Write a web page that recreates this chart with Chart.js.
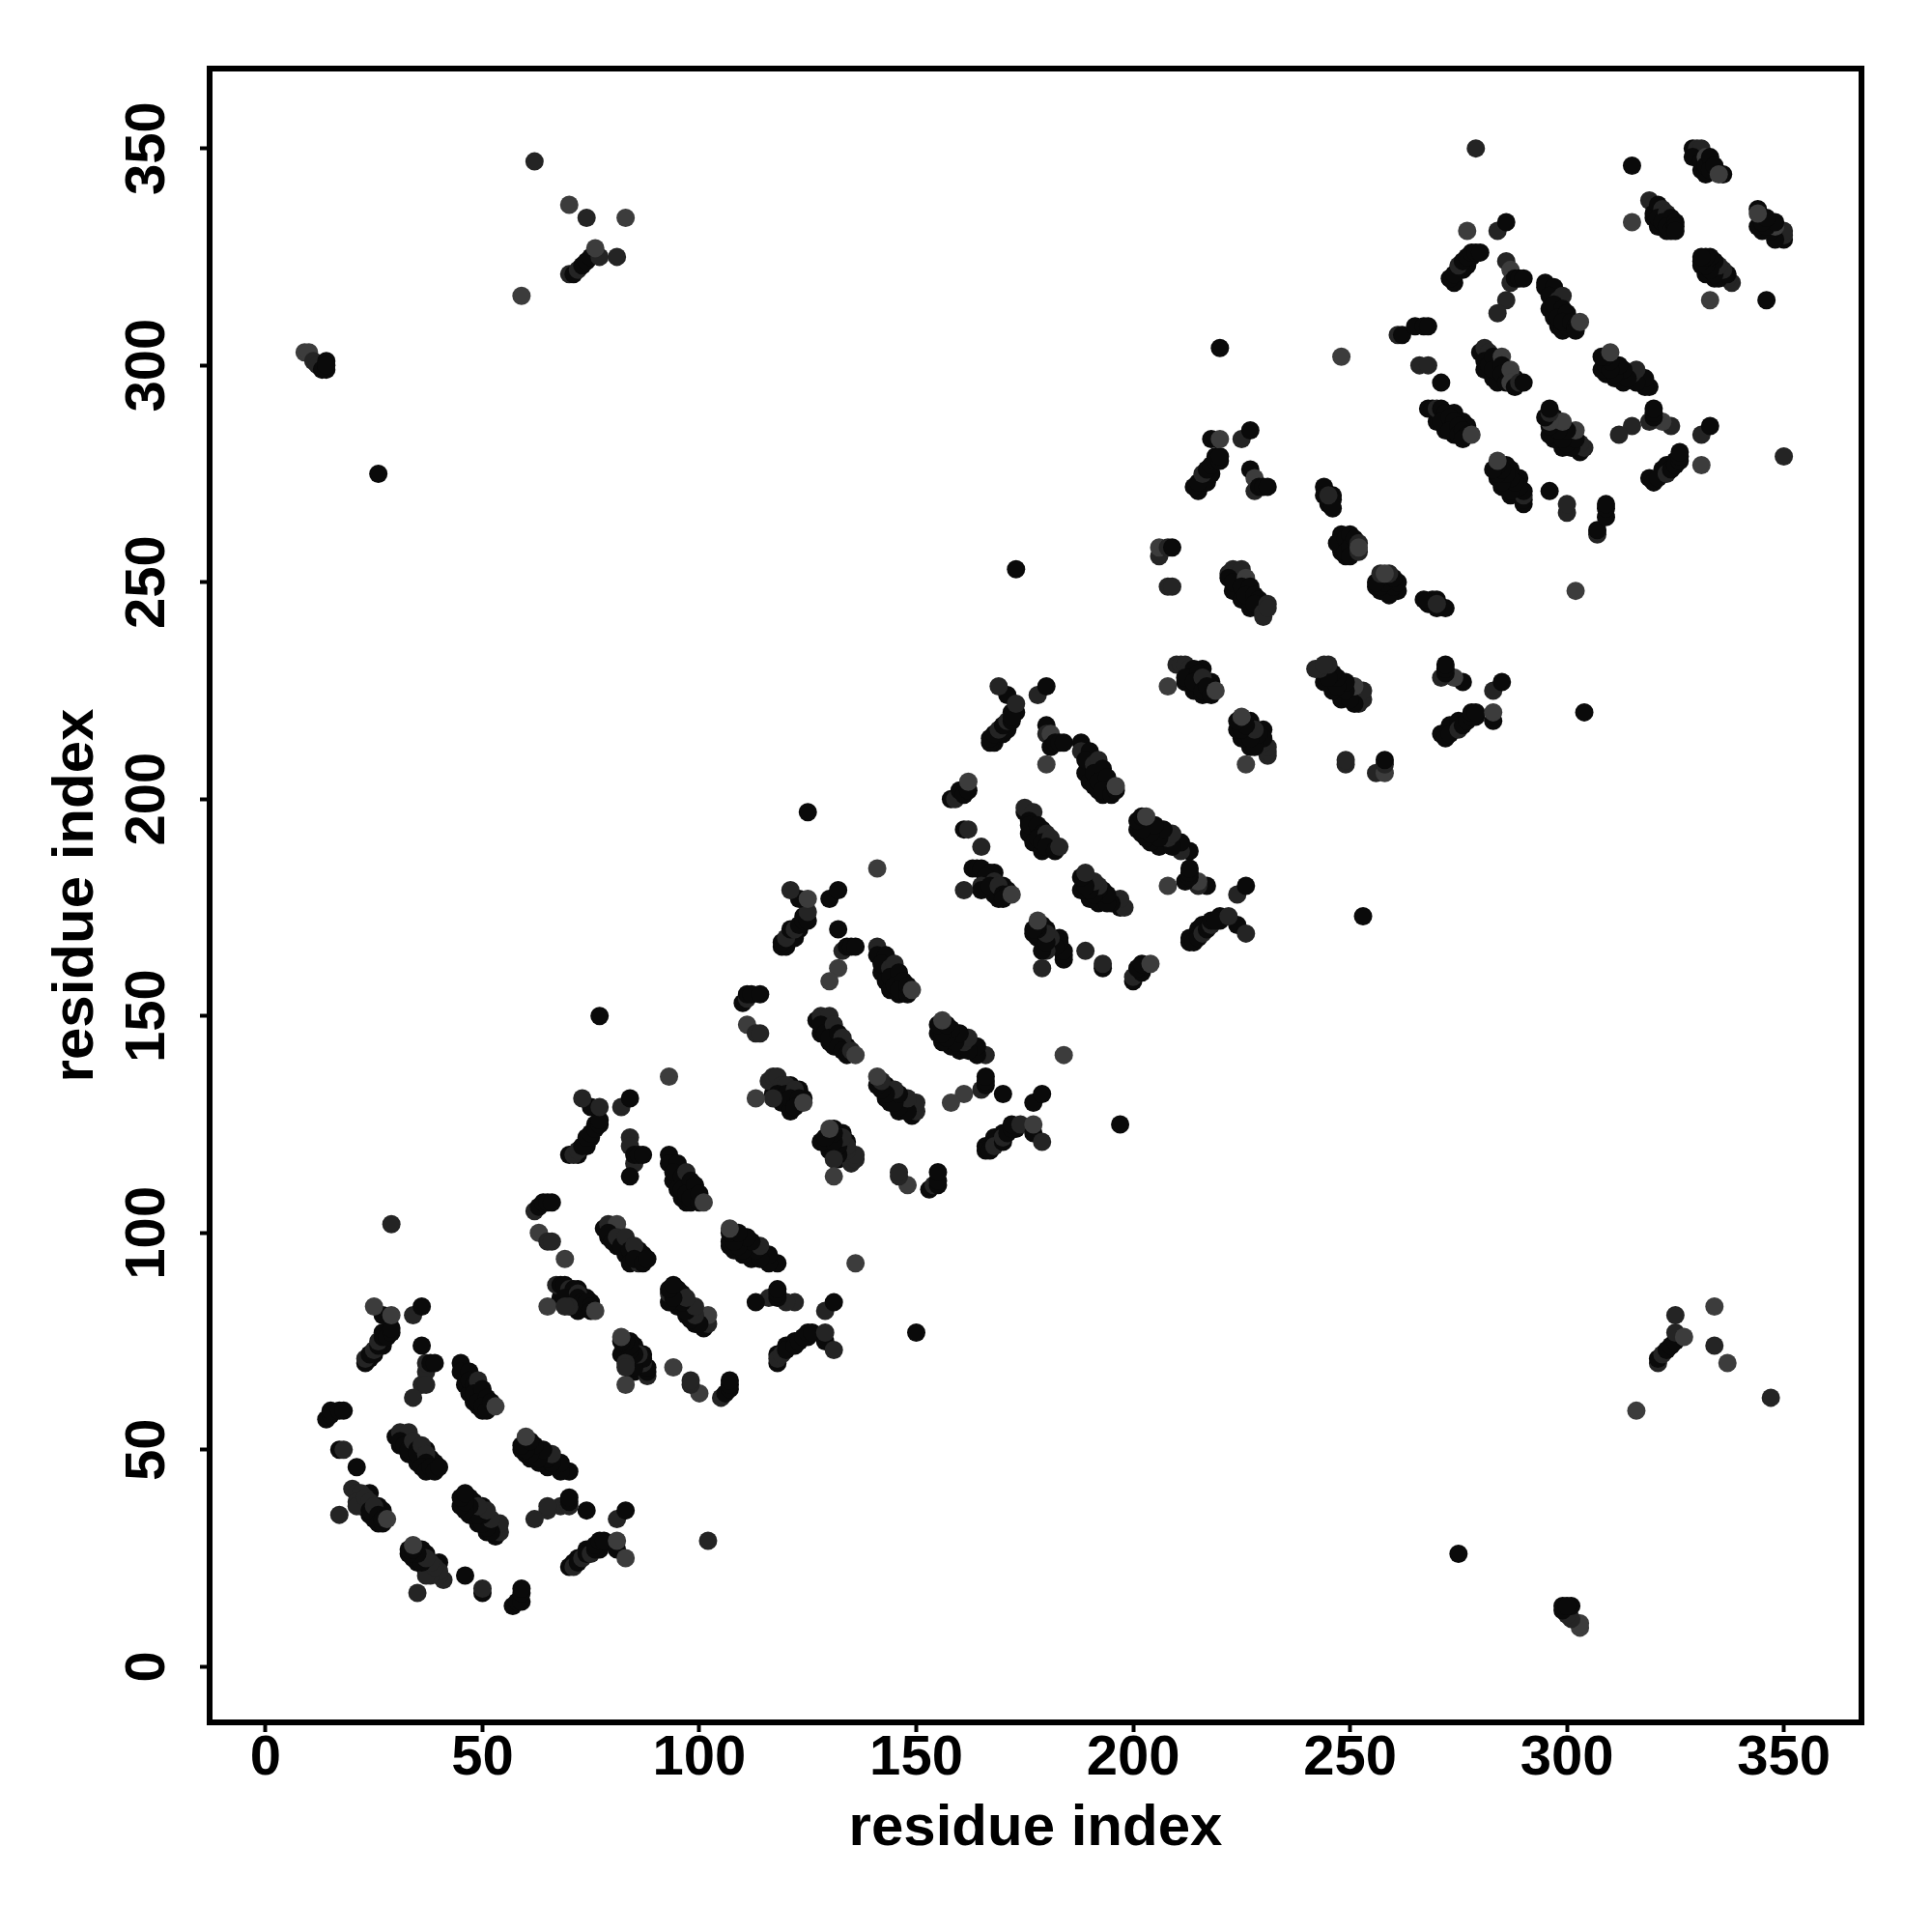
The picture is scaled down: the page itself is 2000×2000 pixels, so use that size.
<!DOCTYPE html>
<html>
<head>
<meta charset="utf-8">
<title>residue contact map</title>
<script src="https://cdn.jsdelivr.net/npm/chart.js@4"></script>
<style>
  html, body { margin: 0; padding: 0; background: #fff; }
  canvas { display: block; }
</style>
</head>
<body>
<canvas id="contactChart" width="2000" height="2000"></canvas>
<script>
const tickValues = [0, 50, 100, 150, 200, 250, 300, 350];
const axisLabel = "residue index";

// contacts, one side of the diagonal only (the map is symmetric)
// one line per cluster, the three arrays line up
const residueA = [
  14,15,15,17,18,
  17,18,21,17,
  20,21,22,21,21,23,24,24,25,26,26,27,27,28,
  30,31,33,31,32,33,34,35,35,36,37,37,36,37,38,39,40,
  23,23,24,25,26,26,27,28,29,29,27,25,29,34,36,
  36,37,37,38,39,36,37,34,
  45,45,47,47,48,49,48,50,49,51,50,51,52,53,
  62,63,64,65,66,
  63,65,66,69,
  67,68,69,70,71,69,72,72,73,70,74,75,65,69,75,76,
  78,79,81,79,80,81,82,83,84,85,84,86,85,87,88,
  70,71,72,73,74,75,76,77,77,75,77,73,82,84,
  84,84,85,85,86,87,84,
  93,93,95,94,96,97,96,98,97,99,98,100,100,101,
  110,111,111,112,114,
  111,113,114,
  116,117,118,119,120,118,120,122,121,123,122,124,117,113,
  127,128,130,128,129,131,130,132,133,132,133,134,135,136,
  119,119,120,121,122,123,124,125,125,123,121,125,130,132,
  132,133,134,135,136,132,130,
  141,141,143,142,144,145,144,146,145,147,146,148,148,149,
  158,159,160,161,162,162,
  161,162,165,
  163,164,165,167,166,168,165,165,167,169,170,171,170,172,161,
  175,175,177,176,176,178,179,178,180,179,181,180,182,183,
  167,167,168,169,170,171,172,173,172,171,173,169,178,180,
  180,180,181,181,182,183,184,180,
  188,188,190,189,191,192,191,193,192,194,193,195,196,196,
  206,206,208,209,
  208,209,
  208,210,211,212,213,214,212,215,214,216,216,217,218,219,
  222,223,225,222,223,226,225,227,226,228,229,228,230,230,231,231,
  214,215,216,217,218,219,220,220,218,220,225,227,
  227,228,228,229,230,231,
  244,244,246,246,246,245,248,248,247,249,249,250,250,251,250,252,252,252,
  261,262,265,267,268,
  266,268,271,
  268,269,270,271,272,271,273,274,273,275,275,276,277,276,278,
  280,281,282,281,282,283,283,285,285,285,286,287,287,288,289,290,
  273,274,275,276,277,278,279,280,277,284,286,
  286,287,287,288,289,290,286,284,
  295,295,297,296,298,299,297,299,298,300,299,301,302,302,303,
  319,320,320,321,322,321,323,322,324,323,325,324,325,325,
  315,315,
  329,330,331,329,331,332,332,333,333,334,336,335,
  26,29,77,93,125,141,173,220,248,279,
  9,10,11,12,13,14,14,14,
  70,71,72,73,74,75,77,76,81,83,74,70,62,59
];
const residueB = [
  57,58,59,59,59,
  50,50,46,35,
  41,40,40,38,37,39,38,36,37,35,33,33,34,34,
  53,54,54,52,51,50,52,50,49,51,49,47,46,45,46,45,46,
  70,71,72,73,74,75,76,76,77,78,81,83,81,81,83,
  74,68,70,70,70,65,65,62,
  70,68,68,66,65,66,63,64,61,62,60,59,61,60,
  105,106,107,107,107,
  100,98,98,94,
  88,88,88,87,87,85,86,85,84,83,84,83,83,83,82,82,
  101,102,102,100,98,99,97,99,96,97,93,93,94,93,94,
  118,118,119,120,122,123,124,125,126,129,129,131,129,131,
  122,120,116,118,118,118,113,
  118,116,116,114,113,114,110,112,109,111,108,107,109,107,
  153,154,155,155,155,
  148,146,146,
  135,136,136,134,134,132,132,133,131,131,129,130,131,131,
  149,150,150,148,146,148,145,146,145,143,142,141,142,141,
  166,167,168,170,170,171,172,172,174,177,179,177,177,179,
  170,165,166,166,166,161,158,
  166,164,164,162,161,162,159,160,157,158,156,155,157,156,
  200,200,202,201,202,204,
  193,193,189,
  184,184,184,183,182,181,180,179,180,180,178,178,177,178,179,
  197,198,197,195,194,194,192,191,192,190,191,189,188,189,
  213,214,215,216,217,218,218,220,219,224,222,226,224,226,
  217,215,215,212,213,213,213,208,
  213,211,211,209,208,209,206,207,204,205,202,201,202,203,
  256,258,258,258,
  249,249,
  226,231,231,231,230,230,228,229,227,228,225,226,224,225,
  252,253,253,251,250,251,249,249,247,247,246,245,243,242,245,244,
  272,273,275,276,277,278,278,279,283,283,283,285,
  276,274,271,272,272,272,
  272,270,270,269,267,270,261,258,259,260,257,261,258,260,256,259,257,258,
  307,307,309,309,309,
  300,300,296,
  290,290,290,290,289,287,288,287,285,286,284,285,284,283,284,
  303,304,303,301,300,302,299,302,300,298,296,299,296,295,296,296,
  320,321,323,324,325,326,326,326,331,331,333,
  324,322,319,320,320,320,315,312,
  319,318,318,316,315,316,314,313,311,312,310,310,309,308,310,
  338,337,335,337,336,334,335,333,334,332,333,331,332,331,
  346,333,
  350,350,350,348,347,348,346,348,345,346,344,344,
  275,102,150,136,197,184,253,304,302,350,
  303,303,301,300,299,299,301,300,
  321,321,322,323,324,325,325,327,325,334,334,337,347,316
];
// 3 = darkest point, 1 = palest point
const contactScore = [
  3,3,3,3,3,
  3,2,3,2,
  2,2,2,2,2,2,2,3,2,3,3,3,3,1,
  3,2,2,3,3,3,2,3,3,2,2,3,3,3,3,3,3,
  3,2,3,2,3,2,3,3,3,3,3,1,1,2,3,
  3,2,2,3,3,2,2,2,
  3,3,3,3,3,2,3,3,3,3,3,3,3,1,
  2,3,3,3,3,
  1,2,2,1,
  2,3,3,2,3,3,2,3,3,2,3,3,1,2,3,1,
  3,2,1,3,3,2,3,2,3,2,3,2,3,3,3,
  3,2,2,3,3,3,3,3,3,3,2,2,2,3,
  2,2,2,3,3,3,3,
  3,3,3,3,3,2,3,3,3,3,3,3,3,1,
  3,2,3,3,3,
  1,2,2,
  2,2,2,2,2,3,3,2,3,3,3,1,2,1,
  3,2,2,3,3,2,3,3,2,3,3,3,2,1,
  3,3,2,3,2,3,3,3,2,3,2,1,3,3,
  3,2,3,3,3,1,1,
  2,3,3,3,2,2,3,3,3,3,3,3,3,1,
  3,2,3,3,3,1,
  3,2,2,
  3,3,3,3,3,2,2,3,3,2,3,3,3,1,2,
  3,2,2,3,3,3,3,3,2,3,2,3,3,2,
  3,3,3,2,3,2,3,3,3,3,2,2,2,3,
  3,2,1,3,3,3,3,1,
  3,2,3,3,2,2,3,3,3,3,3,3,3,1,
  2,1,2,3,
  2,2,
  1,2,2,2,2,3,3,3,3,2,3,3,3,1,
  2,2,2,3,3,1,3,3,3,3,3,3,2,2,2,2,
  3,3,2,3,3,3,3,3,3,1,2,3,
  3,1,2,3,3,3,
  3,3,3,3,3,2,3,3,3,3,3,3,3,3,3,2,2,1,
  2,3,3,3,3,
  2,2,3,
  3,3,2,3,3,3,3,3,3,3,3,3,3,3,1,
  3,2,2,3,3,3,3,1,3,3,3,1,1,3,2,3,
  3,3,2,3,3,3,3,3,1,2,3,
  2,1,2,3,3,3,2,2,
  3,3,3,3,2,2,3,3,3,3,3,3,3,3,1,
  2,2,3,3,2,3,2,3,3,3,3,3,3,3,
  3,1,
  3,2,2,3,3,1,3,3,3,3,3,1,
  3,2,3,1,3,1,3,3,1,2,
  1,1,2,2,3,3,3,3,
  2,3,2,3,3,3,2,1,2,1,2,1,2,1
];

// darkest contacts that sit underneath the clusters and give them their width
const innerA = [
  46,47,48,49,50, 94,95,96,97,98, 142,143,144,146,147, 189,190,191,192,193, 296,297,298,299,300, 245,248,249,
  31,33,35,37,38,39, 79,81,83,85,86,87, 128,130,131,131,133,134, 176,177,179,179,181,182, 223,225,227, 281,283,284,284,286,288,
  22,24,25,24,26,27, 68,70,72,72,74,75, 117,119,121,121,123,124, 166,168,169,168,170,171, 212,214,216,216,218,218, 270,272,274,274,276,277,
  320,321,323, 331,332,
  24,25,27,27, 72,74,75,76, 120,122,123,124, 168,170,171,172, 215,217,218,219, 274,276,277,278
];
const innerB = [
  65,63,61,60,59, 112,110,108,107,107, 160,158,156,155,156, 206,204,203,202,201, 313,311,309,308,309, 268,257,256,
  51,49,47,50,48,47, 99,97,95,95,96,95, 146,144,143,146,144,143, 192,190,188,193,190,189, 248,246,244, 299,297,296,301,299,297,
  37,35,34,40,37,36, 85,84,82,87,85,84, 132,130,128,134,133,131, 180,178,177,183,180,179, 227,225,224,230,227,226, 287,285,284,289,287,286,
  334,332,331, 345,344,
  71,72,74,77, 118,120,122,125, 166,168,170,173, 213,215,216,220, 271,273,275,279, 319,322,323,325
];

const greys = { 1: "#3c3c3c", 2: "#242424", 3: "#0a0a0a" };

let points = [];
let pointColors = [];
for (let i = 0; i < innerA.length; i++) {
  points.push({ x: innerA[i], y: innerB[i] });
  points.push({ x: innerB[i], y: innerA[i] });
  pointColors.push(greys[3], greys[3]);
}
for (let i = 0; i < residueA.length; i++) {
  points.push({ x: residueA[i], y: residueB[i] });
  points.push({ x: residueB[i], y: residueA[i] });
  pointColors.push(greys[contactScore[i]], greys[contactScore[i]]);
}

// box round the plot area, like R's box()
const frame = {
  id: "frame",
  afterDraw(chart) {
    const { left, top, width, height } = chart.chartArea;
    const ctx = chart.ctx;
    ctx.save();
    ctx.strokeStyle = "#000";
    ctx.lineWidth = 6;
    ctx.strokeRect(left, top, width, height);
    ctx.restore();
  }
};

const tickFont = { family: "'Liberation Sans'", size: 58, weight: "bold" };
const titleFont = { family: "'Liberation Sans'", size: 60, weight: "bold" };

function axisTicks(scale) {
  scale.ticks = tickValues.map(v => ({ value: v }));
}

new Chart(document.getElementById("contactChart").getContext("2d"), {
  type: "scatter",
  data: {
    datasets: [{
      data: points,
      pointBackgroundColor: pointColors,
      pointBorderWidth: 0,
      pointRadius: 9.5,
      clip: false
    }]
  },
  plugins: [frame],
  options: {
    responsive: false,
    animation: false,
    layout: { padding: { top: 71, right: 73, left: 0, bottom: 0 } },
    plugins: { legend: { display: false }, tooltip: { enabled: false } },
    scales: {
      x: {
        min: -12.9,
        max: 367.9,
        afterBuildTicks: axisTicks,
        afterFit(scale) { scale.height = 217; },
        border: { display: false },
        grid: { drawOnChartArea: false, tickLength: 10, tickWidth: 4, tickColor: "#000" },
        ticks: { color: "#000", font: tickFont, padding: -7, maxRotation: 0, autoSkip: false },
        title: { display: true, text: axisLabel, color: "#000", font: titleFont, padding: { top: 0, bottom: 71 } }
      },
      y: {
        min: -12.85,
        max: 368.4,
        afterBuildTicks: axisTicks,
        afterFit(scale) { scale.width = 217; },
        border: { display: false },
        grid: { drawOnChartArea: false, tickLength: 10, tickWidth: 4, tickColor: "#000" },
        ticks: { color: "#000", font: tickFont, padding: 5, minRotation: 90, maxRotation: 90, crossAlign: "center", autoSkip: false },
        title: { display: true, text: axisLabel, color: "#000", font: titleFont, padding: { top: 43, bottom: 0 } }
      }
    }
  }
});
</script>
</body>
</html>
